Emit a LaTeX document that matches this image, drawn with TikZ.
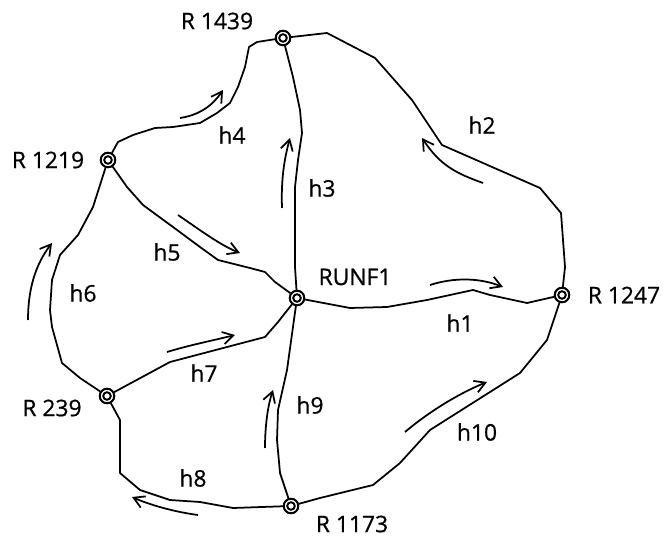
\documentclass[tikz,border=0pt]{standalone}
\usepackage{fontspec}
\setmainfont{Open Sans}[FakeBold=0.7]
\newfontfamily\lblfont{Open Sans}[FakeBold=0.7]
\usetikzlibrary{arrows.meta}
\begin{document}
\begin{tikzpicture}[x=0.02cm,y=-0.02cm,
  junction/.style={circle,draw,line width=1.1pt,minimum size=8.2pt,inner sep=0pt,fill=white,
    path picture={\draw[line width=1.1pt] (path picture bounding box.center) circle (2.15pt);}},
  lbl/.style={font=\lblfont\fontsize{13}{15}\selectfont, inner sep=0pt},
  road/.style={line width=1pt, line join=round},
  flow/.style={line width=1pt, -{Straight Barb[length=6pt,width=7pt]}}]
\useasboundingbox (0,0) rectangle (665,536);

% junctions
\node[junction] (r1439) at (283,38) {};
\node[junction] (r1219) at (108,160) {};
\node[junction] (runf) at (297,298) {};
\node[junction] (r1247) at (562,295) {};
\node[junction] (r239) at (107,396) {};
\node[junction] (r1173) at (291,506) {};

% junction labels
\node[lbl] (lr1439) at (217,21) {R 1439};
\node[lbl] (lr1219) at (48,160) {R 1219};
\node[lbl] (lrunf) at (355,277) {RUNF1};
\node[lbl] (lr1247) at (624,295) {R 1247};
\node[lbl] (lr239) at (52,408) {R 239};
\node[lbl] (lr1173) at (352,524) {R 1173};

% road labels
\node[lbl] (lh1) at (460,323) {h1};
\node[lbl] (lh2) at (482,125) {h2};
\node[lbl] (lh3) at (322,188) {h3};
\node[lbl] (lh4) at (232,135) {h4};
\node[lbl] (lh5) at (167,252) {h5};
\node[lbl] (lh6) at (83,293) {h6};
\node[lbl] (lh7) at (204,373) {h7};
\node[lbl] (lh8) at (193,478) {h8};
\node[lbl] (lh9) at (310,405) {h9};
\node[lbl] (lh10) at (477,432) {h10};

% roads
\draw[road] (r1219) -- (118,142) -- (133,135) -- (155,128) -- (173,127) -- (200,123) -- (217,113) -- (230,103) -- (238,87) -- (245,67) -- (249,47) -- (257,42) -- (r1439);
\draw[road] (r1439) -- (293,77) -- (300,110) -- (302,133) -- (298,160) -- (295,187) -- (295,233) -- (295,267) -- (runf);
\draw[road] (r1439) -- (327,33) -- (375,58) -- (412,100) -- (442,145) -- (483,163) -- (540,188) -- (561,213) -- (565,267) -- (r1247);
\draw[road] (r1219) -- (127,187) -- (143,205) -- (173,227) -- (200,247) -- (218,260) -- (250,268) -- (265,272) -- (275,282) -- (runf);
\draw[road] (r1219) -- (93,207) -- (78,235) -- (60,255) -- (52,280) -- (50,310) -- (52,327) -- (62,363) -- (80,378) -- (r239);
\draw[road] (r239) -- (170,362) -- (265,337) -- (278,322) -- (runf);
\draw[road] (r239) -- (120,420) -- (120,473) -- (140,490) -- (170,500) -- (200,502) -- (233,508) -- (r1173);
\draw[road] (runf) -- (287,370) -- (278,410) -- (277,440) -- (280,473) -- (r1173);
\draw[road] (runf) -- (350,308) -- (387,307) -- (427,300) -- (473,290) -- (490,295) -- (527,303) -- (r1247);
\draw[road] (r1247) -- (547,340) -- (520,373) -- (430,430) -- (400,463) -- (373,485) -- (320,498) -- (r1173);

% flow arrows
\draw[flow] (180,118) .. controls (200,115) and (213,105) .. (223,90);
\draw[flow] (282,208) .. controls (281,180) and (284,160) .. (290,138);
\draw[flow] (483,183) .. controls (455,173) and (440,165) .. (422,138);
\draw[flow] (178,215) .. controls (200,230) and (220,245) .. (240,253);
\draw[flow] (28,320) .. controls (28,290) and (35,265) .. (52,243);
\draw[flow] (167,352) .. controls (190,345) and (215,340) .. (235,335);
\draw[flow] (198,515) .. controls (175,512) and (150,505) .. (132,497);
\draw[flow] (265,448) .. controls (265,425) and (268,405) .. (273,390);
\draw[flow] (430,285) .. controls (455,277) and (480,278) .. (503,287);
\draw[flow] (405,432) .. controls (425,415) and (455,395) .. (487,382);

% redraw junctions on top
\foreach \n in {r1439,r1219,runf,r1247,r239,r1173}
  \node[junction] at (\n) {};
\end{tikzpicture}
\end{document}
